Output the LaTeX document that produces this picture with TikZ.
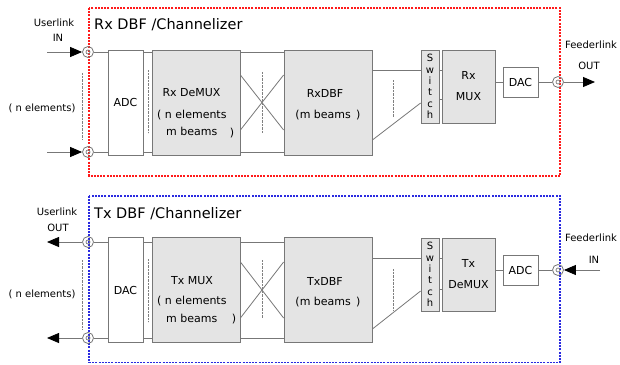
\documentclass[tikz,border=0pt]{standalone}
\usepackage{fontspec}
\setmainfont{DejaVu Sans}
\usetikzlibrary{arrows.meta,positioning,calc}
\definecolor{edge}{HTML}{777777}
\definecolor{shade}{HTML}{E4E4E4}
\definecolor{rxred}{HTML}{FF1A1A}
\definecolor{txblue}{HTML}{2A2AE0}
\tikzset{
  blk/.style={draw=edge, line width=0.8pt, fill=white, inner sep=0pt, align=center, font=\fontsize{11}{13}\selectfont},
  conv/.style={blk, minimum width=35pt, minimum height=105pt},
  proc/.style={blk, fill=shade, minimum width=88pt, minimum height=105pt},
  sw/.style={blk, fill=shade, minimum width=18pt, minimum height=73pt, font=\fontsize{10}{11.3}\selectfont},
  mux/.style={blk, fill=shade, minimum width=53pt, minimum height=73pt},
  small/.style={blk, minimum width=35pt, minimum height=30pt},
  port/.style={circle, draw=edge, line width=0.8pt, minimum size=11pt, inner sep=0pt,
    path picture={\draw[edge, line width=0.7pt] (path picture bounding box.center) circle (2pt);}},
  wire/.style={draw=edge, line width=0.8pt},
  sig/.style={wire, -{Triangle[length=12pt, width=10pt, color=black]}},
  dots/.style={draw=black!50, line width=0.9pt, dash pattern=on 0.6pt off 0.8pt},
  frame/.style={line width=1.2pt, dash pattern=on 2pt off 1.2pt},
  lbl/.style={font=\fontsize{10}{12}\selectfont, align=center, inner sep=0pt},
  txt/.style={font=\fontsize{11}{13}\selectfont, inner sep=0pt},
  ttl/.style={font=\fontsize{14.5}{16}\selectfont, anchor=west, inner sep=0pt}
}
\begin{document}
\begin{tikzpicture}[x=1pt, y=-1pt]
\useasboundingbox (0,0) rectangle (620,364);

% ---- Rx DBF / Channelizer
\draw[frame, draw=rxred] (89,8) rectangle (560,176);
\node[ttl] (tR) at (94,25) {Rx DBF /Channelizer};
\node[lbl] (ulR) at (54,23) {Userlink};
\node[lbl] (ulRin) at (58,38) {IN};
\node[lbl] (neR) at (42,108) {( n elements)};
\node[lbl] (flR) at (591,45) {Feederlink};
\node[lbl] (flRout) at (589,66) {OUT};

\node[port] (pr1) at (88,52) {};
\node[port] (pr2) at (88,152) {};
\node[conv] (adcR) at (125.5,102.5) {ADC};
\node[proc] (dmxR) at (196,102.5) {};
\node[proc] (dbfR) at (328,102.5) {};
\node[sw] (swR) at (430,86.5) {S\\w\\i\\t\\c\\h};
\node[mux] (muxR) at (468.5,86.5) {Rx\\[8pt]MUX};
\node[small] (dacR) at (520.5,82) {DAC};
\node[port] (pro) at (558,82) {};

\node[txt] at (191.5,93) {Rx DeMUX};
\node[txt, anchor=west] at (157,115) {( n elements};
\node[txt, anchor=west] at (166,131) {m beams};
\node[txt] at (232,133) {)};
\node[txt] at (325,93) {RxDBF};
\node[txt] at (328,115) {(m beams \,)};

\coordinate (ur1) at (47,52);
\coordinate (ur2) at (47,152);
\coordinate (fo) at (595,82);
\draw[sig] (ur1) -- (pr1.west);
\draw[sig] (ur2) -- (pr2.west);
\foreach \p in {pr1,pr2}{
  \draw[wire] (\p.east) -- (\p -| adcR.west);
  \draw[wire] (adcR.east |- \p) -- (\p -| dmxR.west);
  \draw[wire] (dmxR.east |- \p) -- (\p -| dbfR.west);
}
\draw[wire] ($(dmxR.east)+(0,-27.5)$) -- ($(dbfR.west)+(0,27.5)$);
\draw[wire] ($(dmxR.east)+(0,27.5)$) -- ($(dbfR.west)+(0,-27.5)$);
\draw[wire] ($(dbfR.east)+(0,-32.5)$) -- ($(swR.west)+(0,-16.5)$);
\draw[wire] ($(dbfR.east)+(0,37.5)$) -- ($(swR.west)+(0,16.5)$);
\draw[wire] ($(swR.east)+(0,-16.5)$) -- ($(muxR.west)+(0,-16.5)$);
\draw[wire] ($(swR.east)+(0,12.5)$) -- ($(muxR.west)+(0,12.5)$);
\draw[wire] (dacR.west -| muxR.east) -- (dacR.west);
\draw[wire] (dacR.east) -- (pro.west);
\draw[sig] (pro.east) -- (fo);

\draw[dots] (82,73) -- (82,140);
\draw[dots] (148,70) -- (148,133);
\draw[dots] (262,72) -- (262,133);
\draw[dots] (393,80) -- (393,117);

% ---- Tx DBF / Channelizer
\draw[frame, draw=txblue] (89,196) rectangle (560,362.5);
\node[ttl] (tT) at (94,214) {Tx DBF /Channelizer};
\node[lbl] (ulT) at (57,212) {Userlink};
\node[lbl] (ulTout) at (58,228) {OUT};
\node[lbl] (neT) at (42,294) {( n elements)};
\node[lbl] (flT) at (591,238) {Feederlink};
\node[lbl] (flTin) at (594,260) {IN};

\node[port] (pt1) at (88,242) {};
\node[port] (pt2) at (88,338) {};
\node[conv] (dacT) at (125.5,290) {DAC};
\node[proc] (muxT) at (196,290) {};
\node[proc] (dbfT) at (328,290) {};
\node[sw] (swT) at (430,274.5) {S\\w\\i\\t\\c\\h};
\node[mux] (dmxT) at (468.5,274.5) {Tx\\[8pt]DeMUX};
\node[small] (adcT) at (520.5,270) {ADC};
\node[port] (pti) at (558,270) {};

\node[txt] at (192,281) {Tx MUX};
\node[txt, anchor=west] at (157,301) {( n elements};
\node[txt, anchor=west] at (166,318) {m beams};
\node[txt] at (234,319) {)};
\node[txt] at (325,281) {TxDBF};
\node[txt] at (328,302) {(m beams \,)};

\coordinate (uo1) at (47,242);
\coordinate (uo2) at (47,338);
\coordinate (fi) at (600,270);
\draw[sig] (pt1.west) -- (uo1);
\draw[sig] (pt2.west) -- (uo2);
\foreach \p in {pt1,pt2}{
  \draw[wire] (\p.east) -- (\p -| dacT.west);
  \draw[wire] (dacT.east |- \p) -- (\p -| muxT.west);
  \draw[wire] (muxT.east |- \p) -- (\p -| dbfT.west);
}
\draw[wire] ($(muxT.east)+(0,-28)$) -- ($(dbfT.west)+(0,28)$);
\draw[wire] ($(muxT.east)+(0,28)$) -- ($(dbfT.west)+(0,-28)$);
\draw[wire] ($(dbfT.east)+(0,-32)$) -- ($(swT.west)+(0,-16.5)$);
\draw[wire] ($(dbfT.east)+(0,39)$) -- ($(swT.west)+(0,16.5)$);
\draw[wire] ($(swT.east)+(0,-16.5)$) -- ($(dmxT.west)+(0,-16.5)$);
\draw[wire] ($(swT.east)+(0,14.5)$) -- ($(dmxT.west)+(0,14.5)$);
\draw[wire] (adcT.west -| dmxT.east) -- (adcT.west);
\draw[wire] (adcT.east) -- (pti.west);
\draw[sig] (fi) -- (pti.east);

\draw[dots] (82,260) -- (82,329);
\draw[dots] (148,259) -- (148,322);
\draw[dots] (262,260) -- (262,318);
\draw[dots] (393,269) -- (393,310);
\end{tikzpicture}
\end{document}
